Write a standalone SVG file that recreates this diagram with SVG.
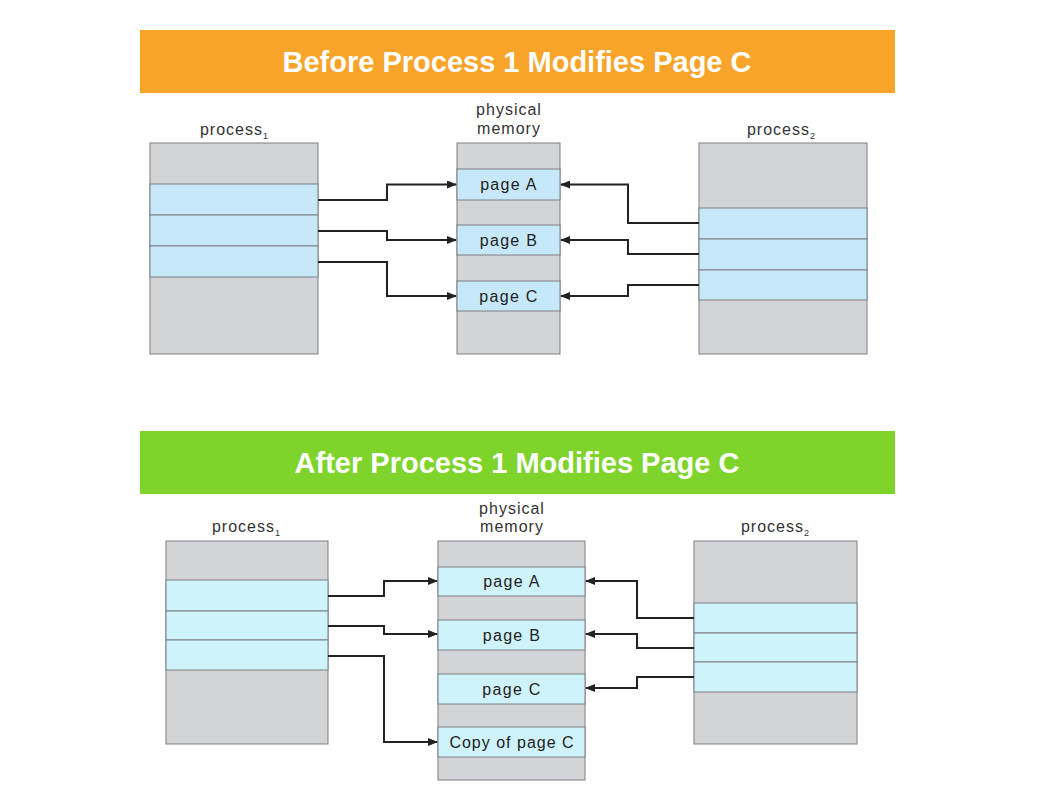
<svg xmlns="http://www.w3.org/2000/svg" width="1058" height="794" viewBox="0 0 1058 794">
<defs>
<style>
.title{font-family:"Liberation Sans",Arial,sans-serif;font-weight:bold;font-size:29px;fill:#fff;text-anchor:middle}
.lbl{font-family:"Liberation Sans",Arial,sans-serif;font-size:16px;letter-spacing:1px;fill:#333;text-anchor:middle}
.pg{font-family:"Liberation Sans",Arial,sans-serif;font-size:16px;letter-spacing:1.3px;fill:#222;text-anchor:middle}
.sub{font-size:9px;letter-spacing:0}
.g{fill:#d2d4d7;stroke:#7d7f82;stroke-width:1}
.b{fill:#c6e8f8;stroke:#7d7f82;stroke-width:1}
.b2{fill:#cff3fb;stroke:#7d7f82;stroke-width:1}
.c{fill:none;stroke:#222;stroke-width:2}
</style>
<marker id="ah" markerWidth="10" markerHeight="8" refX="9" refY="4" orient="auto" markerUnits="userSpaceOnUse">
<path d="M0,0 L10,4 L0,8 Z" fill="#222"/>
</marker>
</defs>
<rect width="1058" height="794" fill="#fff"/>

<g id="banner-before">
<rect x="140" y="30" width="755" height="63" fill="#f8a42a"/>
<text class="title" x="517" y="72">Before Process 1 Modifies Page C</text>
</g>

<g id="top-process1">
<text class="lbl" x="234" y="135">process<tspan class="sub" dy="4">1</tspan></text>
<rect class="g" x="150" y="143" width="168" height="211"/>
<rect class="b" x="150" y="184" width="168" height="31"/>
<rect class="b" x="150" y="215" width="168" height="31"/>
<rect class="b" x="150" y="246" width="168" height="31"/>
</g>

<g id="top-memory">
<text class="lbl" x="509" y="115">physical</text>
<text class="lbl" x="509" y="134">memory</text>
<rect class="g" x="457" y="143" width="103" height="211"/>
<rect class="b" x="457" y="169" width="103" height="31"/>
<text class="pg" x="509" y="190">page A</text>
<rect class="b" x="457" y="225" width="103" height="30"/>
<text class="pg" x="509" y="246">page B</text>
<rect class="b" x="457" y="281" width="103" height="30"/>
<text class="pg" x="509" y="302">page C</text>
</g>

<g id="top-process2">
<text class="lbl" x="781" y="135">process<tspan class="sub" dy="4">2</tspan></text>
<rect class="g" x="699" y="143" width="168" height="211"/>
<rect class="b" x="699" y="208" width="168" height="31"/>
<rect class="b" x="699" y="239" width="168" height="31"/>
<rect class="b" x="699" y="270" width="168" height="30"/>
</g>

<g id="banner-after">
<rect x="140" y="431" width="755" height="63" fill="#7ed42a"/>
<text class="title" x="517" y="473">After Process 1 Modifies Page C</text>
</g>

<g id="bottom-process1">
<text class="lbl" x="246" y="532">process<tspan class="sub" dy="4">1</tspan></text>
<rect class="g" x="166" y="541" width="162" height="203"/>
<rect class="b2" x="166" y="580" width="162" height="31"/>
<rect class="b2" x="166" y="611" width="162" height="29"/>
<rect class="b2" x="166" y="640" width="162" height="30"/>
</g>

<g id="bottom-memory">
<text class="lbl" x="512" y="514">physical</text>
<text class="lbl" x="512" y="532">memory</text>
<rect class="g" x="438" y="541" width="147" height="239"/>
<rect class="b2" x="438" y="567" width="147" height="29"/>
<text class="pg" x="512" y="587">page A</text>
<rect class="b2" x="438" y="620" width="147" height="30"/>
<text class="pg" x="512" y="641">page B</text>
<rect class="b2" x="438" y="674" width="147" height="30"/>
<text class="pg" x="512" y="695">page C</text>
<rect class="b2" x="438" y="727" width="147" height="30"/>
<text class="pg" x="512" y="748" style="letter-spacing:1px">Copy of page C</text>
</g>

<g id="bottom-process2">
<text class="lbl" x="775" y="532">process<tspan class="sub" dy="4">2</tspan></text>
<rect class="g" x="694" y="541" width="163" height="203"/>
<rect class="b2" x="694" y="603" width="163" height="30"/>
<rect class="b2" x="694" y="633" width="163" height="29"/>
<rect class="b2" x="694" y="662" width="163" height="30"/>
</g>

<g id="connectors">
<path class="c" marker-end="url(#ah)" d="M318,200 H387 V184.5 H456"/>
<path class="c" marker-end="url(#ah)" d="M318,231 H387 V240 H456"/>
<path class="c" marker-end="url(#ah)" d="M318,262 H387 V296 H456"/>
<path class="c" marker-end="url(#ah)" d="M699,223 H628 V184.5 H561"/>
<path class="c" marker-end="url(#ah)" d="M699,254 H628 V240 H561"/>
<path class="c" marker-end="url(#ah)" d="M699,285 H628 V296 H561"/>

<path class="c" marker-end="url(#ah)" d="M328,596 H384 V581 H437"/>
<path class="c" marker-end="url(#ah)" d="M328,626 H384 V634 H437"/>
<path class="c" marker-end="url(#ah)" d="M328,656 H384 V742 H437"/>
<path class="c" marker-end="url(#ah)" d="M694,618 H637 V581 H586"/>
<path class="c" marker-end="url(#ah)" d="M694,648 H637 V634 H586"/>
<path class="c" marker-end="url(#ah)" d="M694,677 H637 V688 H586"/>
</g>
</svg>
